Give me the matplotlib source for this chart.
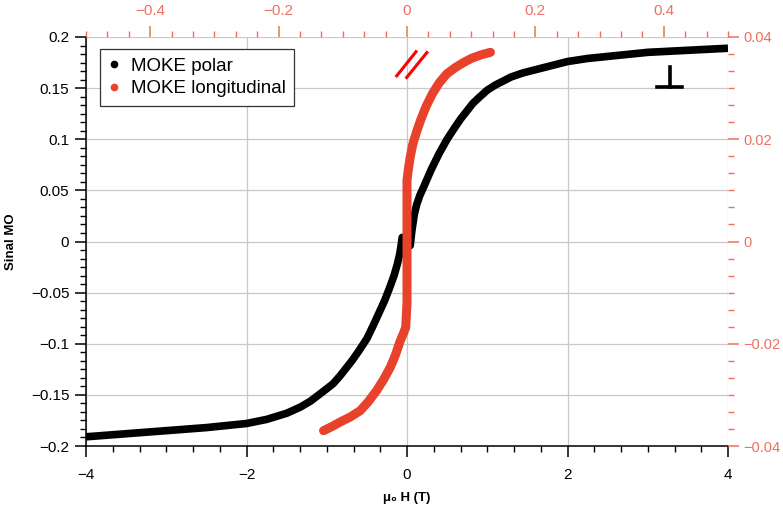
import matplotlib
matplotlib.use("Agg")
import matplotlib.pyplot as plt
from matplotlib.ticker import MultipleLocator, FuncFormatter
from matplotlib.lines import Line2D

plt.rcParams['font.family'] = ['Liberation Sans', 'DejaVu Sans']

# MOKE polar (bottom / left axes)
h_polar = [-4.0, -3.5, -3.0, -2.5, -2.0, -1.75, -1.5, -1.33, -1.2, -1.1, -1.0, -0.92,
           -0.83, -0.75, -0.68, -0.6, -0.5, -0.42, -0.35, -0.28, -0.22, -0.16, -0.12,
           -0.09, -0.07, -0.06,
           0.04, 0.06, 0.09, 0.12, 0.16, 0.2, 0.25, 0.3, 0.35, 0.4, 0.45, 0.5, 0.55,
           0.6, 0.67, 0.75, 0.82, 0.9, 1.0, 1.1, 1.2, 1.3, 1.45, 1.6, 1.8, 2.0,
           2.25, 2.5, 2.75, 3.0, 3.5, 4.0]
m_polar = [-0.191, -0.188, -0.185, -0.182, -0.178, -0.174, -0.168, -0.162, -0.156, -0.150, -0.144, -0.139,
           -0.131, -0.123, -0.116, -0.107, -0.095, -0.082, -0.070, -0.058, -0.046, -0.033, -0.022,
           -0.012, -0.002, 0.004,
           -0.004, 0.010, 0.026, 0.036, 0.045, 0.052, 0.061, 0.070, 0.078, 0.086, 0.093, 0.100, 0.106,
           0.112, 0.120, 0.128, 0.135, 0.141, 0.148, 0.153, 0.157, 0.161, 0.165, 0.168, 0.172, 0.176,
           0.179, 0.181, 0.183, 0.185, 0.187, 0.189]

# MOKE longitudinal (top / right axes)
h_long = [-0.130, -0.117, -0.104, -0.088, -0.073, -0.060, -0.047, -0.036, -0.026, -0.018,
          -0.011, -0.005, -0.002, 0.0, 0.0, 0.0,
          0.002, 0.005, 0.009, 0.015, 0.022, 0.03, 0.04, 0.05, 0.062, 0.075, 0.088,
          0.1, 0.115, 0.13]
m_long = [-0.037, -0.0362, -0.0353, -0.0343, -0.0331, -0.0313, -0.0291, -0.0269, -0.0246, -0.0222,
          -0.0196, -0.0178, -0.0168, -0.012, 0.0, 0.012,
          0.014, 0.0165, 0.019, 0.0215, 0.024, 0.0265, 0.029, 0.031, 0.0328, 0.034, 0.035,
          0.0358, 0.0365, 0.037]

red_axis = '#ee6f62'
red_line = '#e8412c'

fmt = FuncFormatter(lambda v, p: ('%g' % round(v, 6)).replace('-', '\u2212'))

fig = plt.figure(figsize=(7.83, 5.08), dpi=100)
pos = [86 / 783, 1 - 446 / 508, 642 / 783, 409 / 508]
ax = fig.add_axes(pos)
ax2 = fig.add_axes(pos, frameon=False)

ax.plot(h_polar, m_polar, color='black', lw=5.5, solid_capstyle='butt', solid_joinstyle='round', zorder=3)
ax.set_xlim(-4, 4)
ax.set_ylim(-0.2, 0.2)
ax.xaxis.set_major_locator(MultipleLocator(2))
ax.xaxis.set_minor_locator(MultipleLocator(1 / 3))
ax.yaxis.set_major_locator(MultipleLocator(0.05))
ax.yaxis.set_minor_locator(MultipleLocator(0.05 / 6))
ax.xaxis.set_major_formatter(fmt)
ax.yaxis.set_major_formatter(fmt)
ax.grid(True, which='major', color='#c8c8c8', lw=0.9, zorder=0)
ax.set_axisbelow(True)
ax.spines['top'].set_visible(False)
ax.spines['right'].set_visible(False)
for s in ['left', 'bottom']:
    ax.spines[s].set_linewidth(1.1)
ax.tick_params(which='major', direction='out', length=8, width=1.1, labelsize=11)
ax.tick_params(axis='x', which='major', pad=8)
ax.tick_params(axis='y', which='major', pad=4)
ax.tick_params(which='minor', direction='out', length=4.5, width=1.0)
ax.set_xlabel('\u03bc\u2080 H (T)', fontsize=9.5, fontweight='bold')
ax.set_ylabel('Sinal MO', fontsize=9.5, fontweight='bold')
ax.xaxis.set_label_coords(0.5, -0.112)
ax.yaxis.set_label_coords(-0.107, 0.5)

ax2.plot(h_long, m_long, color=red_line, lw=6.5, solid_capstyle='round', solid_joinstyle='round', zorder=3)
ax2.set_xlim(-0.5, 0.5)
ax2.set_ylim(-0.04, 0.04)
ax2.xaxis.tick_top()
ax2.yaxis.tick_right()
ax2.xaxis.set_major_locator(MultipleLocator(0.2))
ax2.xaxis.set_minor_locator(MultipleLocator(1 / 30))
ax2.yaxis.set_major_locator(MultipleLocator(0.02))
ax2.yaxis.set_minor_locator(MultipleLocator(0.02 / 6))
ax2.xaxis.set_major_formatter(fmt)
ax2.yaxis.set_major_formatter(fmt)
for s in ['top', 'right']:
    ax2.spines[s].set_visible(True)
    ax2.spines[s].set_color(red_axis)
    ax2.spines[s].set_linewidth(1.1)
ax2.tick_params(which='both', colors=red_axis, direction='out')
ax2.tick_params(which='major', length=8, width=1.1, labelsize=11)
ax2.tick_params(axis='x', which='major', pad=6)
ax2.tick_params(axis='y', which='major', pad=3, labelsize=10.5)
ax2.tick_params(which='minor', length=4.5, width=1.0)

# orientation symbols
ax2.plot([0.484, 0.514], [0.905, 0.964], color='#ff0000', lw=2.2, transform=ax2.transAxes, clip_on=False)
ax2.plot([0.4995, 0.531], [0.901, 0.962], color='#ff0000', lw=2.2, transform=ax2.transAxes, clip_on=False)
ax2.plot([0.9097, 0.9097], [0.927, 0.877], color='black', lw=2.6, transform=ax2.transAxes, clip_on=False)
ax2.plot([0.8899, 0.9279], [0.8766, 0.8766], color='black', lw=2.6, transform=ax2.transAxes, clip_on=False)

handles = [Line2D([], [], ls='none', marker='o', ms=4.5, color='black'),
           Line2D([], [], ls='none', marker='o', ms=4.5, color=red_line)]
leg = ax2.legend(handles, ['MOKE polar', 'MOKE longitudinal'], loc='upper left',
                 bbox_to_anchor=((100 - 86) / 642, (446 - 49) / 409), fontsize=13.5,
                 frameon=True, fancybox=False, edgecolor='#333333', framealpha=1,
                 handlelength=0.6, handletextpad=0.6, borderpad=0.45, labelspacing=0.3,
                 borderaxespad=0)
leg.get_frame().set_linewidth(0.9)

fig.savefig('out.png', dpi=100)
